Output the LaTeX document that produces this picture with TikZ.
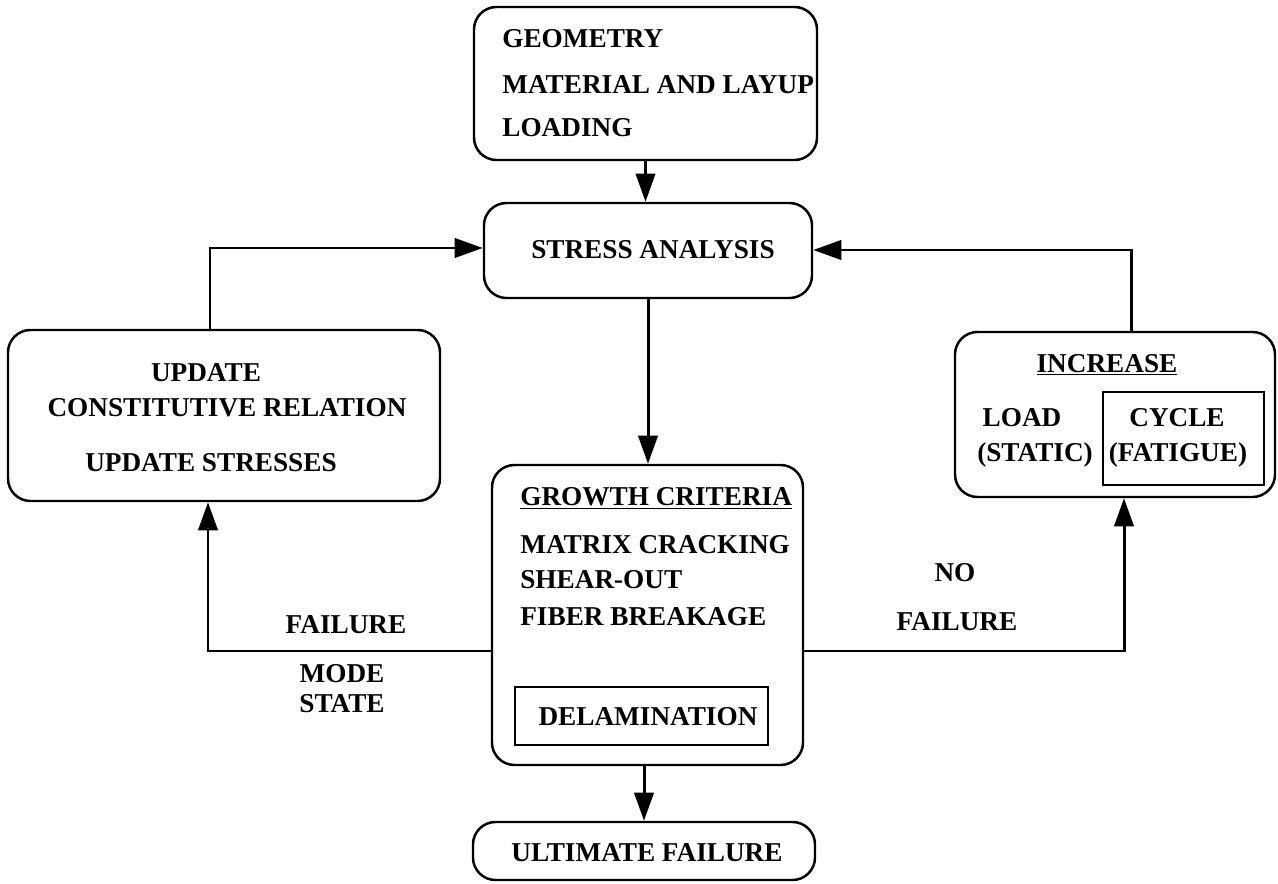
\documentclass[tikz,border=0pt]{standalone}
\usepackage{fontspec}
\setmainfont{Liberation Serif}
\usetikzlibrary{arrows.meta,positioning,fit}
\tikzset{
  box/.style={draw,line width=1.4pt,rounded corners=0.45cm,inner sep=0pt},
  subbox/.style={draw,line width=1.4pt,inner sep=0pt},
  lbl/.style={font=\fontsize{15.5}{18}\selectfont\bfseries,inner sep=0pt},
  flow/.style={line width=1.7pt,-{Triangle[length=16pt,width=11pt]}},
}
\begin{document}
\begin{tikzpicture}[x=0.02cm,y=-0.02cm]
\useasboundingbox (0,0) rectangle (1278,884);
% Input data
\node[box,fit={(474,7) (817,160)}] (geo) {};
\node[lbl,anchor=west] (geoA) at (502,39) {GEOMETRY};
\node[lbl,anchor=west] (geoB) at (502,85) {MATERIAL AND LAYUP};
\node[lbl,anchor=west] (geoC) at (502,128) {LOADING};
% Stress analysis
\node[box,fit={(484,203) (812,298)}] (stress) {};
\node[lbl] (stressT) at (653,250) {STRESS ANALYSIS};
% Update of properties
\node[box,fit={(8,330) (440,501)}] (upd) {};
\node[lbl] (updA) at (206,373) {UPDATE};
\node[lbl] (updB) at (227,408) {CONSTITUTIVE RELATION};
\node[lbl] (updC) at (211,463) {UPDATE STRESSES};
% Growth criteria
\node[box,fit={(492,465) (803,765)}] (growth) {};
\node[lbl,anchor=west] (grA) at (520,498) {\underline{GROWTH CRITERIA}};
\node[lbl,anchor=west] (grB) at (520,545) {MATRIX CRACKING};
\node[lbl,anchor=west] (grC) at (520,580) {SHEAR-OUT};
\node[lbl,anchor=west] (grD) at (520,617) {FIBER BREAKAGE};
\node[subbox,fit={(515,687) (768,745)}] (delam) {};
\node[lbl] (delamT) at (648,717) {DELAMINATION};
% Increase load / cycle
\node[box,fit={(955,332) (1275,497)}] (inc) {};
\node[lbl] (incT) at (1107,365) {\underline{INCREASE}};
\node[lbl] (loadA) at (1022,418) {LOAD};
\node[lbl] (loadB) at (1035,455) {(STATIC)};
\node[subbox,fit={(1103,392) (1264,485)}] (cyc) {};
\node[lbl] (cycA) at (1177,418) {CYCLE};
\node[lbl] (cycB) at (1178,455) {(FATIGUE)};
% Ultimate failure
\node[box,fit={(473,822) (815,880)}] (ult) {};
\node[lbl] (ultT) at (647,853) {ULTIMATE FAILURE};
% Connectors
\coordinate (fl) at (208,651);
\coordinate (ul) at (210,248);
\coordinate (nf) at (1124,651);
\coordinate (ur) at (1131,250);
\draw[flow] (geo.south) -- (geo.south |- stress.north);
\draw[flow] (stress.south) -- (stress.south |- growth.north);
\draw[flow] (ult.north |- growth.south) -- (ult.north);
\draw[flow] (growth.west |- fl) -- (fl) -- (upd.south -| fl);
\draw[flow] (upd.north -| ul) -- (ul) -- (stress.west |- ul);
\draw[flow] (growth.east |- nf) -- (nf) -- (inc.south -| nf);
\draw[flow] (inc.north -| ur) -- (ur) -- (stress.east |- ur);
% Branch labels
\node[lbl] (failL) at (346,625) {FAILURE};
\node[lbl] (modeL) at (342,674) {MODE};
\node[lbl] (stateL) at (342,704) {STATE};
\node[lbl] (noR) at (955,573) {NO};
\node[lbl] (failR) at (957,622) {FAILURE};
\end{tikzpicture}
\end{document}
